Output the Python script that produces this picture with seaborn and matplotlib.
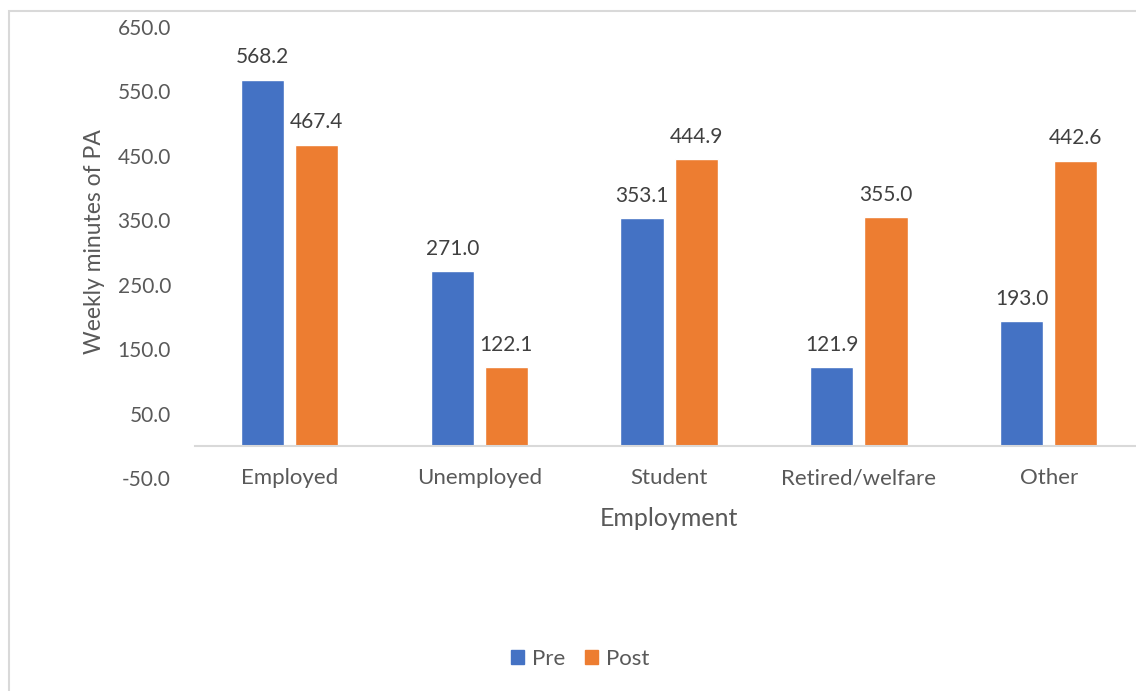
import matplotlib
matplotlib.use("Agg")
import matplotlib.pyplot as plt
from matplotlib.patches import Rectangle
import pandas as pd
import seaborn as sns

# Weekly minutes of physical activity before and after, by employment status
categories = ["Employed", "Unemployed", "Student", "Retired/welfare", "Other"]
pre_values = [568.2, 271.0, 353.1, 121.9, 193.0]
post_values = [467.4, 122.1, 444.9, 355.0, 442.6]
periods = ["Pre", "Post"]
y_ticks = [-50, 50, 150, 250, 350, 450, 550, 650]

df = pd.DataFrame({
    "Employment": categories * 2,
    "Period": [periods[0]] * len(categories) + [periods[1]] * len(categories),
    "Minutes": pre_values + post_values,
})

sns.set_theme(style="white")
plt.rcParams["font.family"] = ["Lato", "DejaVu Sans"]

W, H = 1136, 691
fig = plt.figure(figsize=(W / 100, H / 100), dpi=100)
ax = fig.add_axes([194.6 / W, 1 - 478 / H, 949 / W, 451 / H])

palette = {"Pre": "#4472C4", "Post": "#ED7D31"}
sns.barplot(data=df, x="Employment", y="Minutes", hue="Period",
            hue_order=periods, order=categories, palette=palette,
            width=0.571, gap=0.2, saturation=1, legend=False, ax=ax)

ax.set_ylim(-50, 650)
ax.set_xlim(-0.5, 4.5)
ax.set_yticks(y_ticks)
ax.set_yticklabels([f"{v:.1f}" for v in y_ticks])

for side in ["top", "right", "left"]:
    ax.spines[side].set_visible(False)
ax.spines["bottom"].set_position(("data", 0))
ax.spines["bottom"].set_color("#d9d9d9")
ax.spines["bottom"].set_linewidth(1.5)

ax.tick_params(axis="both", length=0, labelcolor="#595959")
ax.tick_params(axis="y", pad=17, labelsize=15)
ax.tick_params(axis="x", pad=16, labelsize=16)

for container in ax.containers:
    ax.bar_label(container, fmt="%.1f", padding=9, fontsize=15, color="#404040")

ax.set_xlabel("Employment", fontsize=18, color="#595959")
ax.set_ylabel("Weekly minutes of PA", fontsize=16.5, color="#595959")
ax.xaxis.set_label_coords(0.5, (478 - 507) / 451)
ax.yaxis.set_label_coords((105 - 194.6) / 949, (478 - 242) / 451)

handles = [Rectangle((0, 0), 1, 1, color=palette[p]) for p in periods]
fig.legend(handles, periods, loc="center", bbox_to_anchor=(580 / W, 1 - 659 / H),
           ncol=2, frameon=False, fontsize=16, handlelength=0.6, handleheight=0.6,
           handletextpad=0.35, columnspacing=0.9, labelcolor="#595959")

# chart-area border
fig.patches.append(Rectangle((9 / W, -0.1), 1.2, 1 - 11 / H + 0.1,
                             transform=fig.transFigure, fill=False,
                             edgecolor="#d9d9d9", linewidth=1.5))

fig.savefig("out.png", dpi=100, facecolor="white")
